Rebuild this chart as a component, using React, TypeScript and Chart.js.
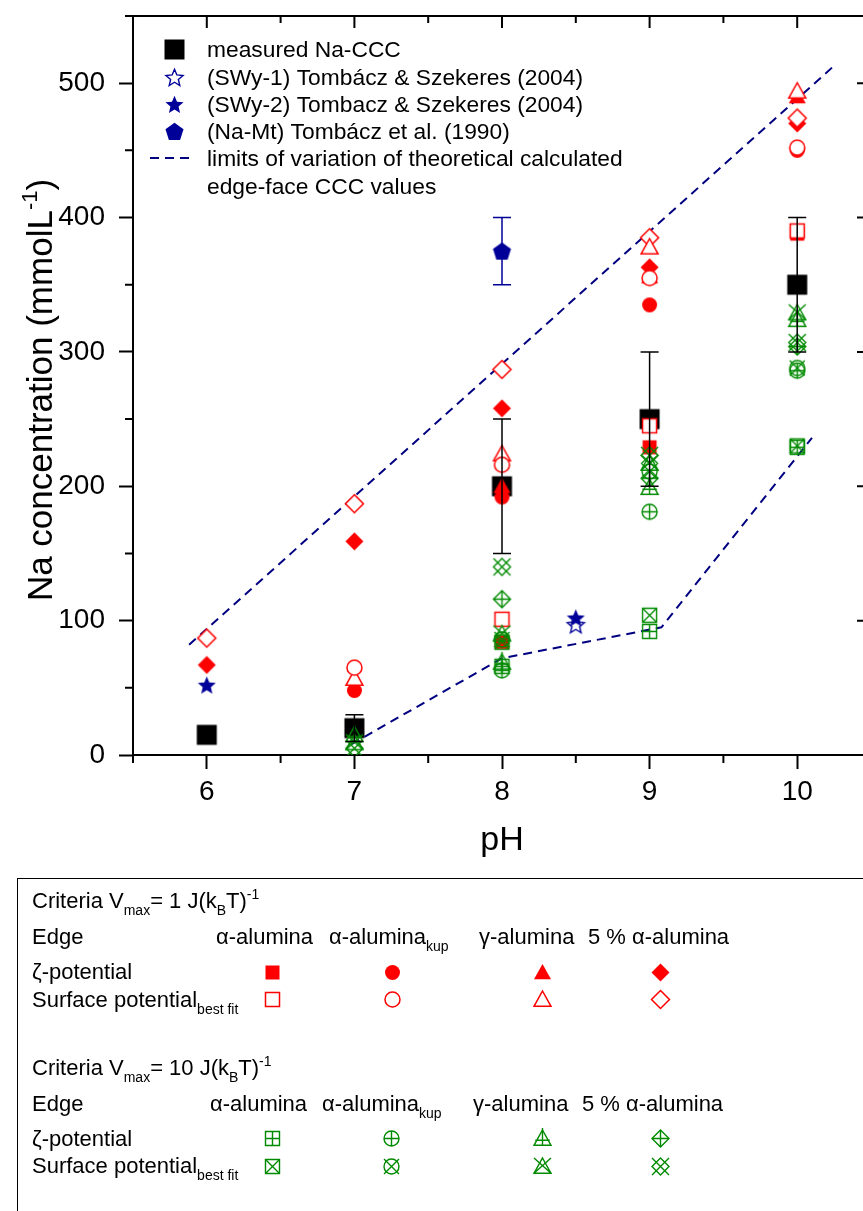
import React, { useEffect, useRef } from 'react';
import { Chart, registerables } from 'chart.js';
Chart.register(...registerables);

const FONT = "'Liberation Sans', Arial, Helvetica, sans-serif";
const RED = '#ff0000';
const GREEN = '#008a00';
const BLUE = '#000099';
const NAVY = '#000080';

// axes
const X_TICKS = [6, 7, 8, 9, 10];
const X_TICK_LABELS = ['6', '7', '8', '9', '10'];
const X_MINOR = [5.5, 6.5, 7.5, 8.5, 9.5, 10.5];
const Y_TICKS = [0, 100, 200, 300, 400, 500];
const Y_TICK_LABELS = ['0', '100', '200', '300', '400', '500'];
const Y_MINOR = [50, 150, 250, 350, 450, 550];
const X_TITLE = 'pH';
const Y_TITLE = 'Na concentration (mmolL';
const Y_TITLE_SUP = '-1';

// categories (pH)
const PH = [6, 7, 8, 9, 10];

// measured Na-CCC
const MEASURED = [15, 20, 200, 250, 350];
const MEASURED_ERR = [0, 10, 50, 50, 50];

// Criteria Vmax = 1 J(kBT)^-1  (red)
const R_ALPHA_ZETA = [null, null, 84, 229, 388];
const R_ALPHA_SURF = [null, null, 101, 245, 390];
const R_KUP_ZETA = [null, 48, 192, 335, 450];
const R_KUP_SURF = [null, 65, 216, 355, 452];
const R_GAMMA_ZETA = [null, null, 200, 356, 490];
const R_GAMMA_SURF = [null, 57, 224, 378, 494];
const R_FIVE_ZETA = [67, 159, 258, 363, 470];
const R_FIVE_SURF = [87, 187, 287, 385, 474];

// Criteria Vmax = 10 J(kBT)^-1 (green)
const G_ALPHA_ZETA = [null, null, 66, 92, 229];
const G_ALPHA_SURF = [null, null, 84, 104, 230];
const G_KUP_ZETA = [null, null, 63, 181, 286];
const G_KUP_SURF = [null, null, 86, 211, 288];
const G_GAMMA_ZETA = [null, 15, 69, 199, 324];
const G_GAMMA_SURF = [null, 9, 90, 217, 329];
const G_FIVE_ZETA = [null, null, 116, 206, 304];
const G_FIVE_SURF = [null, 5, 140, 223, 307];

// literature
const SWY1_PH = [8.5];
const SWY1 = [97];
const SWY2_PH = [6, 8.5];
const SWY2 = [52, 102];
const NAMT_PH = [8];
const NAMT = [375];
const NAMT_ERR = [25];

// limits of theoretical edge-face CCC
const UPPER_PH = [5.88, 10.24];
const UPPER = [82, 512];
const LOWER_PH = [6.98, 8, 9.08, 10.1];
const LOWER = [8, 72, 95, 236];

// legends
const LEGEND_LABELS = [
  'measured Na-CCC',
  '(SWy-1) Tombácz & Szekeres (2004)',
  '(SWy-2) Tombacz & Szekeres (2004)',
  '(Na-Mt) Tombácz et al. (1990)',
  'limits of variation of theoretical calculated',
  'edge-face CCC values',
];
const EDGE_LABELS = ['α-alumina', 'α-alumina', 'γ-alumina', '5 % α-alumina'];

type Deco = 'plus' | 'x' | null;

function mk(shape: string, color: string, filled: boolean | null, size: number, deco: Deco = null, lw = 1.4) {
  const pad = 4;
  const n = Math.ceil(size + pad * 2) | 1;
  const c = document.createElement('canvas');
  c.width = n;
  c.height = n;
  const g = c.getContext('2d')!;
  g.translate(n / 2, n / 2);
  const r = size / 2;
  g.beginPath();
  if (shape === 'square') g.rect(-r, -r, size, size);
  else if (shape === 'circle') g.arc(0, 0, r, 0, Math.PI * 2);
  else if (shape === 'triangle') {
    g.moveTo(0, -r);
    g.lineTo(r, r * 0.8);
    g.lineTo(-r, r * 0.8);
    g.closePath();
  } else if (shape === 'diamond') {
    g.moveTo(0, -r);
    g.lineTo(r, 0);
    g.lineTo(0, r);
    g.lineTo(-r, 0);
    g.closePath();
  } else if (shape === 'star') {
    for (let k = 0; k < 10; k++) {
      const a = -Math.PI / 2 + (k * Math.PI) / 5;
      const rr = k % 2 ? r * 0.45 : r;
      const px = Math.cos(a) * rr;
      const py = Math.sin(a) * rr + r * 0.08;
      if (k === 0) g.moveTo(px, py);
      else g.lineTo(px, py);
    }
    g.closePath();
  } else if (shape === 'pentagon') {
    for (let k = 0; k < 5; k++) {
      const a = -Math.PI / 2 + (k * 2 * Math.PI) / 5;
      const px = Math.cos(a) * r;
      const py = Math.sin(a) * r + r * 0.08;
      if (k === 0) g.moveTo(px, py);
      else g.lineTo(px, py);
    }
    g.closePath();
  }
  if (filled === true) {
    g.fillStyle = color;
    g.fill();
  } else {
    if (filled === false) {
      g.fillStyle = '#fff';
      g.fill();
    }
    g.strokeStyle = color;
    g.lineWidth = lw;
    g.stroke();
  }
  if (deco) {
    g.beginPath();
    g.strokeStyle = color;
    g.lineWidth = lw;
    if (deco === 'plus') {
      if (shape === 'triangle') {
        g.moveTo(0, -r - 2);
        g.lineTo(0, r * 0.8);
        g.moveTo(-r * 0.85, r * 0.2);
        g.lineTo(r * 0.85, r * 0.2);
      } else {
        g.moveTo(0, -r);
        g.lineTo(0, r);
        g.moveTo(-r, 0);
        g.lineTo(r, 0);
      }
    } else {
      const b = r;
      const bb = shape === 'triangle' ? r * 0.8 : b;
      g.moveTo(-b, -b);
      g.lineTo(b, bb);
      g.moveTo(b, -b);
      g.lineTo(-b, bb);
    }
    g.stroke();
  }
  return c;
}

function buildMarkers() {
  return {
    black: mk('square', '#000', true, 20),
    rAZ: mk('square', RED, true, 14),
    rAS: mk('square', RED, false, 14, null, 1.5),
    rKZ: mk('circle', RED, true, 15),
    rKS: mk('circle', RED, false, 15, null, 1.5),
    rGZ: mk('triangle', RED, true, 17),
    rGS: mk('triangle', RED, false, 17, null, 1.5),
    r5Z: mk('diamond', RED, true, 18),
    r5S: mk('diamond', RED, false, 18, null, 1.5),
    gAZ: mk('square', GREEN, null, 14, 'plus', 1.4),
    gAS: mk('square', GREEN, null, 14, 'x', 1.4),
    gKZ: mk('circle', GREEN, null, 15, 'plus', 1.4),
    gKS: mk('circle', GREEN, null, 15, 'x', 1.4),
    gGZ: mk('triangle', GREEN, null, 17, 'plus', 1.4),
    gGS: mk('triangle', GREEN, null, 17, 'x', 1.4),
    g5Z: mk('diamond', GREEN, null, 17, 'plus', 1.4),
    g5S: mk('diamond', GREEN, null, 17, 'x', 1.4),
    swy1: mk('star', BLUE, false, 18, null, 1.4),
    swy2: mk('star', BLUE, true, 19),
    namt: mk('pentagon', BLUE, true, 19),
  };
}

function drawRich(ctx: CanvasRenderingContext2D, x: number, y: number, parts: [string, string][], size: number) {
  let cx = x;
  for (const [t, kind] of parts) {
    const fs = kind === 'n' ? size : Math.round(size * 0.64);
    const dy = kind === 'sub' ? size * 0.3 : kind === 'sup' ? -size * 0.42 : 0;
    ctx.font = `${fs}px ${FONT}`;
    ctx.fillText(t, cx, y + dy);
    cx += ctx.measureText(t).width;
  }
  return cx - x;
}

function richWidth(ctx: CanvasRenderingContext2D, parts: [string, string][], size: number) {
  let w = 0;
  for (const [t, kind] of parts) {
    const fs = kind === 'n' ? size : Math.round(size * 0.64);
    ctx.font = `${fs}px ${FONT}`;
    w += ctx.measureText(t).width;
  }
  return w;
}

export default function App() {
  const ref = useRef<HTMLCanvasElement>(null);
  useEffect(() => {
    const canvas = ref.current;
    if (!canvas) return;
    const M = buildMarkers();
    const pts = (xs: number[], ys: (number | null)[]) =>
      xs.map((x, i) => ({ x, y: ys[i] })).filter((p) => p.y !== null && p.y !== undefined);
    const sc = (label: string, xs: number[], ys: (number | null)[], style: HTMLCanvasElement, order: number) => ({
      label,
      data: pts(xs, ys),
      pointStyle: style,
      pointRadius: 8,
      showLine: false,
      order,
      backgroundColor: 'transparent',
      borderColor: 'transparent',
    });
    const line = (label: string, xs: number[], ys: number[]) => ({
      label,
      data: pts(xs, ys),
      showLine: true,
      borderColor: NAVY,
      borderWidth: 2,
      borderDash: [9, 6],
      pointRadius: 0,
      fill: false,
      order: 50,
    });

    const datasets = [
      line('upper limit', UPPER_PH, UPPER),
      line('lower limit', LOWER_PH, LOWER),
      sc('measured Na-CCC', PH, MEASURED, M.black, 40),
      sc('α ζ (1)', PH, R_ALPHA_ZETA, M.rAZ, 30),
      sc('α-kup ζ (1)', PH, R_KUP_ZETA, M.rKZ, 30),
      sc('γ ζ (1)', PH, R_GAMMA_ZETA, M.rGZ, 30),
      sc('5% ζ (1)', PH, R_FIVE_ZETA, M.r5Z, 30),
      sc('α surf (1)', PH, R_ALPHA_SURF, M.rAS, 25),
      sc('α-kup surf (1)', PH, R_KUP_SURF, M.rKS, 25),
      sc('γ surf (1)', PH, R_GAMMA_SURF, M.rGS, 25),
      sc('5% surf (1)', PH, R_FIVE_SURF, M.r5S, 25),
      sc('α ζ (10)', PH, G_ALPHA_ZETA, M.gAZ, 20),
      sc('α surf (10)', PH, G_ALPHA_SURF, M.gAS, 20),
      sc('α-kup ζ (10)', PH, G_KUP_ZETA, M.gKZ, 20),
      sc('α-kup surf (10)', PH, G_KUP_SURF, M.gKS, 20),
      sc('γ ζ (10)', PH, G_GAMMA_ZETA, M.gGZ, 20),
      sc('γ surf (10)', PH, G_GAMMA_SURF, M.gGS, 20),
      sc('5% ζ (10)', PH, G_FIVE_ZETA, M.g5Z, 20),
      sc('5% surf (10)', PH, G_FIVE_SURF, M.g5S, 20),
      sc('(SWy-1)', SWY1_PH, SWY1, M.swy1, 12),
      sc('(SWy-2)', SWY2_PH, SWY2, M.swy2, 10),
      sc('(Na-Mt)', NAMT_PH, NAMT, M.namt, 10),
    ];

    const errorBars = {
      id: 'errorBars',
      afterDatasetsDraw(chart: any) {
        const { ctx, scales } = chart;
        const xs = scales.x;
        const ys = scales.y;
        const bar = (x: number, v: number, e: number, color: string) => {
          if (!e) return;
          const px = xs.getPixelForValue(x);
          const t = ys.getPixelForValue(v + e);
          const b = ys.getPixelForValue(v - e);
          ctx.save();
          ctx.strokeStyle = color;
          ctx.lineWidth = 1.5;
          ctx.beginPath();
          ctx.moveTo(px, t);
          ctx.lineTo(px, b);
          ctx.moveTo(px - 9, t);
          ctx.lineTo(px + 9, t);
          ctx.moveTo(px - 9, b);
          ctx.lineTo(px + 9, b);
          ctx.stroke();
          ctx.restore();
        };
        PH.forEach((p, i) => bar(p, MEASURED[i], MEASURED_ERR[i], '#000'));
        NAMT_PH.forEach((p, i) => bar(p, NAMT[i], NAMT_ERR[i], BLUE));
      },
    };

    const frame = {
      id: 'frame',
      afterDraw(chart: any) {
        const { ctx, chartArea: a, scales } = chart;
        const xs = scales.x;
        const ys = scales.y;
        ctx.save();
        ctx.strokeStyle = '#000';
        ctx.lineWidth = 2;
        ctx.beginPath();
        ctx.moveTo(a.left - 1, a.top);
        ctx.lineTo(a.right, a.top);
        ctx.lineTo(a.right, a.bottom + 1);
        ctx.stroke();
        ctx.beginPath();
        X_TICKS.forEach((v) => {
          const px = xs.getPixelForValue(v);
          ctx.moveTo(px, a.top);
          ctx.lineTo(px, a.top + 12);
        });
        X_MINOR.forEach((v) => {
          const px = xs.getPixelForValue(v);
          ctx.moveTo(px, a.top);
          ctx.lineTo(px, a.top + 7);
          ctx.moveTo(px, a.bottom);
          ctx.lineTo(px, a.bottom + 8);
        });
        Y_TICKS.forEach((v) => {
          const py = ys.getPixelForValue(v);
          ctx.moveTo(a.right, py);
          ctx.lineTo(a.right - 14, py);
        });
        Y_MINOR.forEach((v) => {
          const py = ys.getPixelForValue(v);
          ctx.moveTo(a.right, py);
          ctx.lineTo(a.right - 8, py);
          ctx.moveTo(a.left, py);
          ctx.lineTo(a.left - 8, py);
        });
        ctx.stroke();

        // axis titles
        ctx.fillStyle = '#000';
        ctx.textAlign = 'center';
        ctx.textBaseline = 'alphabetic';
        ctx.font = `34px ${FONT}`;
        ctx.fillText(X_TITLE, (a.left + a.right) / 2, 850);
        ctx.textAlign = 'left';
        const yParts: [string, string][] = [[Y_TITLE, 'n'], [Y_TITLE_SUP, 'sup'], [')', 'n']];
        const YS = 35;
        const yw = richWidth(ctx, yParts, YS);
        ctx.save();
        ctx.translate(52, 390);
        ctx.rotate(-Math.PI / 2);
        drawRich(ctx, -yw / 2, 0, yParts, YS);
        ctx.restore();

        // in-plot legend
        const rows = [49, 77, 104, 131, 158, 186];
        const mx = 174;
        const legMarks = [M.black, M.swy1, M.swy2, M.namt];
        legMarks.forEach((m, i) => ctx.drawImage(m, Math.round(mx - m.width / 2), Math.round(rows[i] - m.height / 2)));
        ctx.save();
        ctx.strokeStyle = NAVY;
        ctx.lineWidth = 2;
        ctx.setLineDash([9, 6]);
        ctx.beginPath();
        ctx.moveTo(150, rows[4]);
        ctx.lineTo(195, rows[4]);
        ctx.stroke();
        ctx.restore();
        ctx.font = `22.8px ${FONT}`;
        ctx.fillStyle = '#000';
        LEGEND_LABELS.forEach((t, i) => ctx.fillText(t, 207, rows[i] + 8));

        // bottom legend box
        ctx.strokeStyle = '#000';
        ctx.lineWidth = 1;
        ctx.strokeRect(17.5, 878.5, 900, 400);
        const FS = 22;
        const blocks = [
          { crit: '1', base: 908, edge: 944, zeta: 979, surf: 1007, heads: [216, 329, 479, 588], marks: [272, 392, 542, 660], zy: 972, sy: 999,
            zm: [M.rAZ, M.rKZ, M.rGZ, M.r5Z], sm: [M.rAS, M.rKS, M.rGS, M.r5S] },
          { crit: '10', base: 1075, edge: 1111, zeta: 1146, surf: 1173, heads: [210, 322, 473, 582], marks: [272, 391, 542, 660], zy: 1138, sy: 1166,
            zm: [M.gAZ, M.gKZ, M.gGZ, M.g5Z], sm: [M.gAS, M.gKS, M.gGS, M.g5S] },
        ];
        blocks.forEach((b) => {
          drawRich(ctx, 32, b.base, [['Criteria V', 'n'], ['max', 'sub'], ['= ' + b.crit + ' J(k', 'n'], ['B', 'sub'], ['T)', 'n'], ['-1', 'sup']], FS);
          drawRich(ctx, 32, b.edge, [['Edge', 'n']], FS);
          EDGE_LABELS.forEach((t, i) => {
            const parts: [string, string][] = i === 1 ? [[t, 'n'], ['kup', 'sub']] : [[t, 'n']];
            drawRich(ctx, b.heads[i], b.edge, parts, FS);
          });
          drawRich(ctx, 32, b.zeta, [['ζ-potential', 'n']], FS);
          drawRich(ctx, 32, b.surf, [['Surface potential', 'n'], ['best fit', 'sub']], FS);
          b.zm.forEach((m, i) => ctx.drawImage(m, Math.round(b.marks[i] - m.width / 2), Math.round(b.zy - m.height / 2)));
          b.sm.forEach((m, i) => ctx.drawImage(m, Math.round(b.marks[i] - m.width / 2), Math.round(b.sy - m.height / 2)));
        });
        ctx.restore();
      },
    };

    const chart = new Chart(canvas, {
      type: 'scatter',
      data: { datasets: datasets as any },
      options: {
        responsive: false,
        devicePixelRatio: 1,
        animation: false,
        events: [],
        layout: { padding: { top: 16, right: 7, left: 0, bottom: 0 } },
        plugins: { legend: { display: false }, tooltip: { enabled: false }, title: { display: false } },
        scales: {
          x: {
            type: 'linear',
            position: 'bottom',
            min: 5.5,
            max: 10.5,
            afterBuildTicks: (s: any) => {
              s.ticks = X_TICKS.map((v) => ({ value: v }));
            },
            afterFit: (s: any) => {
              s.height = 456;
              s.paddingLeft = 0;
              s.paddingRight = 0;
              s.paddingTop = 0;
              s.paddingBottom = 0;
            },
            grid: { display: true, drawOnChartArea: false, drawTicks: true, tickLength: 14, tickWidth: 2, tickColor: '#000', color: '#000' },
            border: { display: true, color: '#000', width: 2 },
            ticks: {
              color: '#000',
              font: { family: FONT, size: 28 },
              padding: 6,
              maxRotation: 0,
              autoSkip: false,
              callback: (v: any) => {
                const i = X_TICKS.indexOf(Number(v));
                return i >= 0 ? X_TICK_LABELS[i] : '';
              },
            },
          },
          y: {
            type: 'linear',
            position: 'left',
            min: 0,
            max: 550,
            afterBuildTicks: (s: any) => {
              s.ticks = Y_TICKS.map((v) => ({ value: v }));
            },
            afterFit: (s: any) => {
              s.width = 133;
              s.paddingTop = 0;
              s.paddingBottom = 0;
              s.paddingLeft = 0;
              s.paddingRight = 0;
            },
            grid: { display: true, drawOnChartArea: false, drawTicks: true, tickLength: 14, tickWidth: 2, tickColor: '#000', color: '#000' },
            border: { display: true, color: '#000', width: 2 },
            ticks: {
              color: '#000',
              font: { family: FONT, size: 28 },
              padding: 14,
              autoSkip: false,
              callback: (v: any) => {
                const i = Y_TICKS.indexOf(Number(v));
                return i >= 0 ? Y_TICK_LABELS[i] : '';
              },
            },
          },
        },
      } as any,
      plugins: [errorBars, frame],
    });
    return () => chart.destroy();
  }, []);

  return (
    <div style={{ position: 'absolute', left: 0, top: 0, width: 863, height: 1211, overflow: 'hidden', background: '#fff' }}>
      <canvas ref={ref} width={880} height={1211} style={{ display: 'block' }} />
    </div>
  );
}
